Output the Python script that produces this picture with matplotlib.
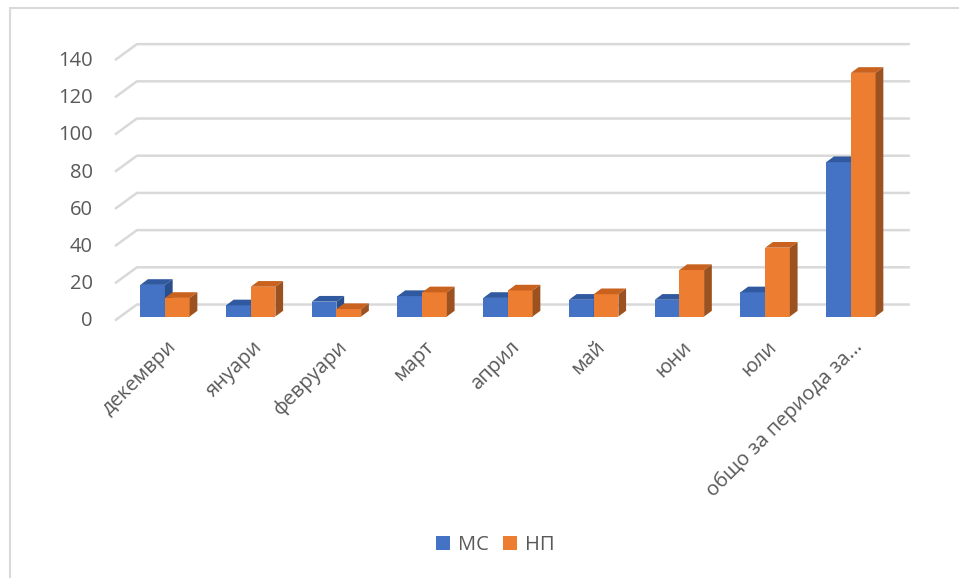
import numpy as np
import matplotlib
matplotlib.use('Agg')
import matplotlib.pyplot as plt
from matplotlib.patches import Polygon, Patch, Rectangle

months = ['декември', 'януари', 'февруари', 'март', 'април', 'май', 'юни', 'юли',
          'общо за периода за...']
mc = [17, 6, 8, 11, 10, 9, 9, 13, 83]
np_vals = [10, 16, 4, 13, 14, 12, 25, 37, 131]
yticks = [0, 20, 40, 60, 80, 100, 120, 140]

plt.rcParams['font.family'] = ['Open Sans', 'DejaVu Sans']
txt = '#595959'
grid_c = '#D9D9D9'

fig = plt.figure(figsize=(9.59, 5.78), dpi=100)
fig.patches.append(Rectangle((10 / 959, -0.1), 1.2, 1 - 8 / 578 + 0.1, transform=fig.transFigure,
                             fill=False, edgecolor=grid_c, lw=1.5))
ax = fig.add_axes([0.1273, 0.4524, 0.8047, 0.4505])
ax.set_xlim(-0.5, 8.5)
ax.set_ylim(0, 140)
ax.axis('off')

# back wall gridlines with slanted floor edges
for v in yticks:
    ax.plot([-0.583, -0.327, 8.688], [v - 2.15, v + 6.45, v + 6.45], color=grid_c, lw=1.8,
            clip_on=False, zorder=1, solid_capstyle='butt')
    ax.text(-0.84, v - 2.6, str(v), ha='right', va='center', fontsize=14.5, color=txt)

x = np.arange(len(months))
w = 0.288
ddx, ddy = 0.09, 3.06

series = [(mc, -w / 2, '#4472C4', '#30599F', '#2B4F8C', 'МС'),
          (np_vals, w / 2, '#ED7D31', '#C8621E', '#9C5220', 'НП')]

for i in range(len(months)):
    for vals, off, front, top, side, _ in series:
        b = ax.bar(x[i] + off, vals[i], width=w, color=front, zorder=3, clip_on=False)[0]
        x0, x1, h = b.get_x(), b.get_x() + b.get_width(), b.get_height()
        ax.add_patch(Polygon([(x0, h), (x1, h), (x1 + ddx, h + ddy), (x0 + ddx, h + ddy)],
                             closed=True, facecolor=top, edgecolor='none', zorder=3, clip_on=False))
        ax.add_patch(Polygon([(x1, 0), (x1 + ddx, ddy), (x1 + ddx, h + ddy), (x1, h)],
                             closed=True, facecolor=side, edgecolor='none', zorder=3, clip_on=False))

for i, m in enumerate(months):
    ax.text(x[i] + 0.02, -11, m, rotation=45, rotation_mode='anchor', ha='right', va='top',
            fontsize=14.5, color=txt, clip_on=False)

handles = [Patch(facecolor=s[2], label=s[5]) for s in series]
fig.legend(handles=handles, loc='center', bbox_to_anchor=(495 / 959, 1 - 545 / 578), ncol=2,
           frameon=False, fontsize=14.5, handlelength=0.7, handleheight=0.7, handletextpad=0.4,
           columnspacing=0.7, labelcolor=txt)

fig.savefig('out.png', dpi=100)
